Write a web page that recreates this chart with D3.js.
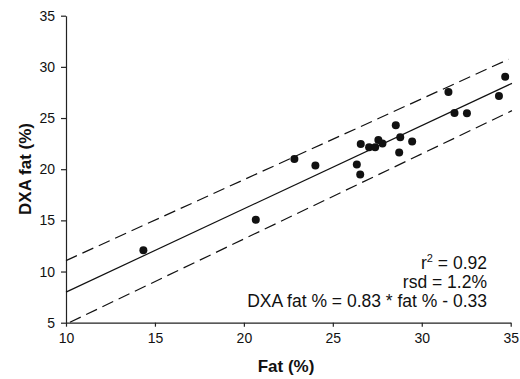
<!DOCTYPE html>
<meta charset="utf-8">
<head>
    <script type="text/javascript" src="https://cdn.jsdelivr.net/npm/d3@7"></script>
    <style>
        body { margin: 0; background: #fff; }
        text { font-family: "Liberation Sans", Arial, sans-serif; fill: #111; }
    </style>
</head>
<body>
<div id="chart"></div>
<script>
    // measured data (fat % vs DXA fat %)
    var fatPct = [14.35, 20.67, 22.84, 24.02, 26.35, 26.54, 26.57, 27.04, 27.38, 27.56,
                  27.79, 28.54, 28.79, 28.73, 29.46, 31.5, 31.84, 32.54, 34.34, 34.69];
    var dxaPct = [12.09, 15.05, 21.0, 20.35, 20.45, 19.47, 22.47, 22.15, 22.15, 22.86,
                  22.5, 24.3, 23.13, 21.62, 22.7, 27.55, 25.5, 25.47, 27.16, 29.04];

    // regression line and band ends
    var fitLine = [[10, 7.99], [35.07, 28.39]];
    var upperBand = [[10, 11.07], [34.88, 30.74]];
    var lowerBand = [[10.22, 5.04], [35.07, 25.72]];

    var xTicks = [10, 15, 20, 25, 30, 35];
    var yTicks = [5, 10, 15, 20, 25, 30, 35];
    var statsText = ["r\u00b2 = 0.92", "rsd = 1.2%", "DXA fat % = 0.83 * fat % - 0.33"];

    var w = 520, h = 379;
    var svg = d3.select("#chart").append("svg").attr("width", w).attr("height", h);

    var x = d3.scaleLinear().domain([10, 35]).range([66, 510.7]);
    var y = d3.scaleLinear().domain([5, 35]).range([322.7, 15.7]);

    // axes
    var xAxis = d3.axisBottom(x).tickValues(xTicks).tickSize(4).tickPadding(6).tickSizeOuter(0);
    var yAxis = d3.axisLeft(y).tickValues(yTicks).tickSize(5).tickPadding(6).tickSizeOuter(0);

    var gx = svg.append("g").attr("transform", "translate(0," + y(5) + ")").call(xAxis);
    var gy = svg.append("g").attr("transform", "translate(" + x(10) + ",0)").call(yAxis);
    [gx, gy].forEach(g => {
        g.selectAll("path, line").attr("stroke", "#222").attr("stroke-width", 1.2);
        g.selectAll("text").style("font-size", "14px").style("font-family", "Liberation Sans, Arial, sans-serif").attr("fill", "#111");
    });

    // lines
    var line = d3.line().x(d => x(d[0])).y(d => y(d[1]));
    svg.append("path").datum(fitLine).attr("d", line)
        .attr("fill", "none").attr("stroke", "#111").attr("stroke-width", 1.2);
    [upperBand, lowerBand].forEach(b => {
        svg.append("path").datum(b).attr("d", line)
            .attr("fill", "none").attr("stroke", "#111").attr("stroke-width", 1.2)
            .attr("stroke-dasharray", "12,6");
    });

    // points
    svg.selectAll("circle.pt")
        .data(fatPct.map((f, i) => [f, dxaPct[i]]))
        .enter().append("circle")
        .attr("class", "pt")
        .attr("cx", d => x(d[0]))
        .attr("cy", d => y(d[1]))
        .attr("r", 4)
        .attr("fill", "#111");

    // stats text
    var st = svg.append("text").attr("text-anchor", "end").style("font-size", "17.5px");
    statsText.forEach((s, i) => {
        var t = st.append("tspan").attr("x", 487).attr("y", 269 + i * 19);
        if (i === 0) {
            t.text("r");
            t.append("tspan").attr("dy", -7).style("font-size", "11px").text("2");
            t.append("tspan").attr("dy", 7).text(" = 0.92");
        } else {
            t.text(s);
        }
    });

    // axis titles
    svg.append("text")
        .attr("x", 286).attr("y", 372)
        .attr("text-anchor", "middle")
        .style("font-size", "17px").style("font-weight", "bold")
        .text("Fat (%)");

    svg.append("text")
        .attr("transform", "translate(31,169) rotate(-90)")
        .attr("text-anchor", "middle")
        .style("font-size", "17px").style("font-weight", "bold")
        .text("DXA fat (%)");
</script>
</body>
